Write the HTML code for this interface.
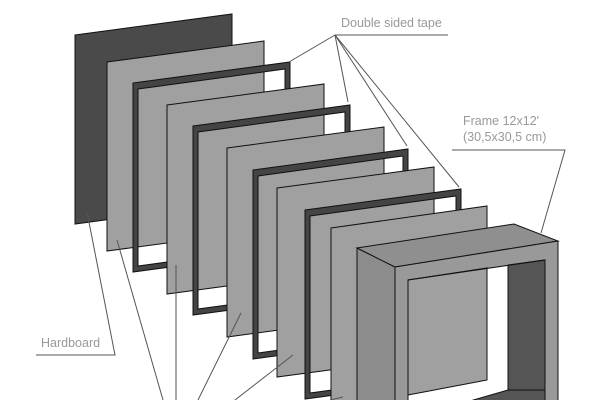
<!DOCTYPE html>
<html><head><meta charset="utf-8"><style>
html,body{margin:0;padding:0;background:#fff;width:600px;height:400px;overflow:hidden}
</style></head><body>
<svg width="600" height="400" viewBox="0 0 600 400" xmlns="http://www.w3.org/2000/svg">
<g stroke="#111" stroke-width="1" stroke-linejoin="miter">
<polygon points="75,35 232,14 232,203 75,224" fill="#4a4a4a"/>
<polygon points="107,62 264,41 264,230 107,251" fill="#a0a0a0"/>
<path fill-rule="evenodd" fill="#444" d="M133,83 L290,62 L290,251 L133,272 Z M138,89 L285,69 L285,246 L138,266 Z"/>
<polygon points="167,105 324,84 324,273 167,294" fill="#a0a0a0"/>
<path fill-rule="evenodd" fill="#444" d="M193,126 L350,105 L350,294 L193,315 Z M198,132 L345,112 L345,289 L198,309 Z"/>
<polygon points="227,148 384,127 384,316 227,337" fill="#a0a0a0"/>
<path fill-rule="evenodd" fill="#444" d="M253,170 L408,149 L408,338 L253,359 Z M258,176 L403,156 L403,333 L258,353 Z"/>
<polygon points="277,188 434,167 434,356 277,377" fill="#a0a0a0"/>
<path fill-rule="evenodd" fill="#444" d="M305,210 L461,189 L461,378 L305,399 Z M310,216 L456,196 L456,373 L310,393 Z"/>
<polygon points="331,228 487,206 487,395 331,417" fill="#a0a0a0"/>
<polygon points="357,248 395,267 395,401 357,401" fill="#8c8c8c"/>
<polygon points="357,248 514,224 558,241 395,267" fill="#8f8f8f"/>
<path fill-rule="evenodd" fill="#999" d="M395,267 L558,241 L558,401 L395,401 Z M408,280 L545,260 L545,401 L408,401 Z"/>
<polygon points="408,280 545,260 545,401 408,401" fill="#fff" stroke="none"/>
<polygon points="508,265 545,260 545,401 508,401" fill="#555"/>
<polygon points="470,401 508,390 545,390 545,401" fill="#555"/>
<polygon points="408,280 487,268 487,380 408,395" fill="#a0a0a0"/>
<line x1="408" y1="280" x2="545" y2="260"/>
<line x1="408" y1="280" x2="408" y2="401"/>
</g>
<g stroke="#555" stroke-width="1" fill="none">
<polyline points="448,35 335,35"/>
<line x1="335" y1="35" x2="289" y2="62"/>
<line x1="335" y1="35" x2="348" y2="102"/>
<line x1="335" y1="35" x2="407" y2="146"/>
<line x1="335" y1="35" x2="459" y2="187"/>
<polyline points="452,150 565,150 541,233"/>
<polyline points="36,355 115,355 87,212"/>
<line x1="117" y1="240" x2="163" y2="400"/>
<line x1="176" y1="265" x2="176" y2="400"/>
<line x1="241" y1="313" x2="198" y2="400"/>
<line x1="293" y1="355" x2="235" y2="400"/>
<line x1="343" y1="397" x2="330" y2="400"/>
</g>
<g font-family="Liberation Sans, sans-serif" font-size="12.5" fill="#999">
<text x="341" y="27">Double sided tape</text>
<text x="463" y="125">Frame 12x12'</text>
<text x="463" y="141">(30,5x30,5 cm)</text>
<text x="41" y="347">Hardboard</text>
</g>
</svg>
</body></html>
